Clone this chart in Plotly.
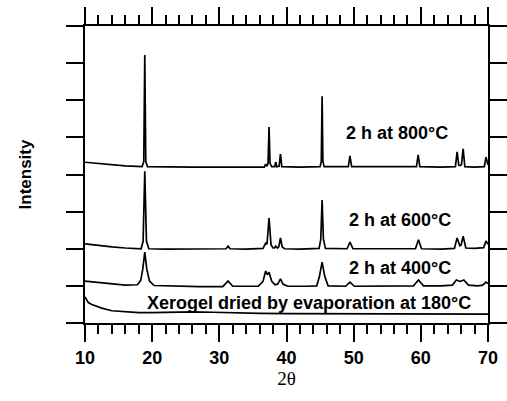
import plotly.graph_objects as go

# ---- data (2θ in degrees, intensity in arbitrary units, stacked offsets) ----
x800 = [10, 12, 14, 16, 18.5, 18.75, 18.9, 19.05, 19.3, 22, 26, 30, 34, 36.7, 36.9, 37.1,
        37.25, 37.4, 37.55, 37.8, 38.25, 38.4, 38.55, 38.9, 39.1, 39.3, 42, 45.0, 45.18, 45.3,
        45.42, 45.6, 49.2, 49.45, 49.7, 55, 59.35, 59.6, 59.85, 63, 65.15, 65.4, 65.65, 65.85,
        66.05, 66.3, 66.55, 68, 69.45, 69.7, 69.9, 70]
y800 = [4.33, 4.29, 4.26, 4.23, 4.21, 4.35, 7.22, 4.35, 4.21, 4.20, 4.20, 4.20, 4.20, 4.20, 4.28, 4.22,
        4.30, 5.28, 4.30, 4.21, 4.21, 4.34, 4.21, 4.22, 4.55, 4.21, 4.20, 4.21, 4.35, 6.11,
        4.35, 4.21, 4.21, 4.50, 4.21, 4.20, 4.21, 4.53, 4.21, 4.20, 4.21, 4.61, 4.25, 4.24,
        4.27, 4.69, 4.21, 4.20, 4.21, 4.47, 4.30, 4.26]

x600 = [10, 12, 14, 16, 18.35, 18.65, 18.9, 19.15, 19.5, 22, 26, 30, 31.0, 31.3, 31.6, 34,
        36.5, 36.9, 37.1, 37.4, 37.7, 38.0, 38.2, 38.4, 38.65, 38.85, 39.1, 39.35, 39.7, 42,
        44.85, 45.1, 45.3, 45.5, 45.8, 49.0, 49.45, 49.9, 55, 59.2, 59.65, 60.1, 63,
        65.0, 65.4, 65.8, 66.0, 66.3, 66.7, 68, 69.35, 69.7, 70]
y600 = [2.13, 2.08, 2.05, 2.02, 2.00, 2.20, 4.09, 2.20, 2.00, 1.99, 1.99, 1.99, 2.00, 2.07, 2.00, 1.99,
        2.01, 2.15, 2.12, 2.83, 2.10, 2.02, 2.02, 2.07, 2.02, 2.05, 2.29, 2.05, 2.00, 1.99,
        2.01, 2.25, 3.31, 2.25, 2.01, 2.00, 2.18, 2.00, 1.99, 2.00, 2.24, 2.00, 1.99,
        2.01, 2.29, 2.08, 2.10, 2.34, 2.02, 2.01, 2.03, 2.21, 2.12]

x400 = [10, 12, 14, 16, 17.8, 18.3, 18.6, 18.9, 19.2, 19.6, 20.3, 23, 27, 30.5, 31.3, 32.0,
        35.8, 36.5, 36.9, 37.15, 37.4, 37.8, 38.3, 38.7, 39.1, 39.5, 40.2, 43,
        44.5, 44.9, 45.3, 45.7, 46.2, 48.8, 49.45, 50.1, 55, 58.9, 59.65, 60.4, 63,
        64.7, 65.3, 65.85, 66.4, 67.1, 68.5, 69.2, 69.7, 70]
y400 = [1.13, 1.09, 1.05, 1.02, 1.03, 1.15, 1.45, 1.91, 1.45, 1.13, 1.01, 0.99, 0.98, 0.98, 1.13, 0.99,
        0.99, 1.12, 1.40, 1.30, 1.37, 1.12, 1.03, 1.05, 1.19, 1.04, 0.99, 0.99,
        1.00, 1.25, 1.64, 1.25, 1.00, 0.99, 1.10, 0.99, 0.99, 1.00, 1.16, 1.00, 1.00,
        1.02, 1.16, 1.12, 1.16, 1.02, 1.00, 1.02, 1.10, 1.06]

xxero = [10, 10.5, 11, 11.5, 12.5, 14, 16, 18, 20, 23, 26, 29, 32, 36, 40, 45, 50, 55, 60, 65, 70]
yxero = [0.70, 0.55, 0.50, 0.46, 0.40, 0.33, 0.30, 0.28, 0.28, 0.30, 0.30, 0.29, 0.27, 0.26,
         0.25, 0.25, 0.24, 0.24, 0.24, 0.24, 0.24]

x_ticks = [10, 20, 30, 40, 50, 60, 70]
x_ticklabels = ["10", "20", "30", "40", "50", "60", "70"]

labels = ["2 h at 800°C", "2 h at 600°C", "2 h at 400°C",
          "Xerogel dried by evaporation at 180°C"]
label_x = [56.4, 56.9, 56.9, 43.35]
label_y = [5.12, 2.77, 1.48, 0.54]

# ---- figure ----
fig = go.Figure()
for xs, ys in [(x800, y800), (x600, y600), (x400, y400), (xxero, yxero)]:
    fig.add_trace(go.Scatter(x=xs, y=ys, mode="lines",
                             line=dict(color="black", width=1.7), showlegend=False,
                             hoverinfo="skip"))

for t, lx, ly in zip(labels, label_x, label_y):
    fig.add_annotation(x=lx, y=ly, xref="x", yref="y", text=t, showarrow=False,
                       font=dict(family="Liberation Sans, Arial", size=18, color="black",
                                 weight="bold"))

sans = "Liberation Sans, Arial, sans-serif"
fig.update_xaxes(range=[10, 70], tickmode="array", tickvals=x_ticks, ticktext=x_ticklabels,
                 ticks="outside", ticklen=17, tickwidth=2, tickcolor="black",
                 showline=True, linewidth=2, linecolor="black", mirror="ticks",
                 minor=dict(dtick=2, ticks="outside", ticklen=9, tickwidth=2,
                            tickcolor="black", showgrid=False),
                 tickfont=dict(family=sans, size=18, color="black", weight="bold"),
                 showgrid=False, zeroline=False, automargin=False,
                 title=dict(text="2θ", font=dict(family="Liberation Serif, Times New Roman, serif",
                                                  size=19, color="black"), standoff=5))
fig.update_yaxes(range=[0, 8], dtick=1, tick0=0, ticks="outside", ticklen=17, tickwidth=2,
                 tickcolor="black", showticklabels=False, automargin=False,
                 showline=True, linewidth=2, linecolor="black", mirror="ticks",
                 showgrid=False, zeroline=False,
                 title=dict(text="Intensity", font=dict(family=sans, size=17, color="black",
                                                        weight="bold"), standoff=30))
fig.update_layout(width=507, height=401, margin=dict(l=85, r=19, t=26, b=78),
                  plot_bgcolor="white", paper_bgcolor="white")
fig.write_html("out.html", config={"displayModeBar": False},
               post_script="document.body.style.margin='0px';document.body.style.overflow='hidden';")
